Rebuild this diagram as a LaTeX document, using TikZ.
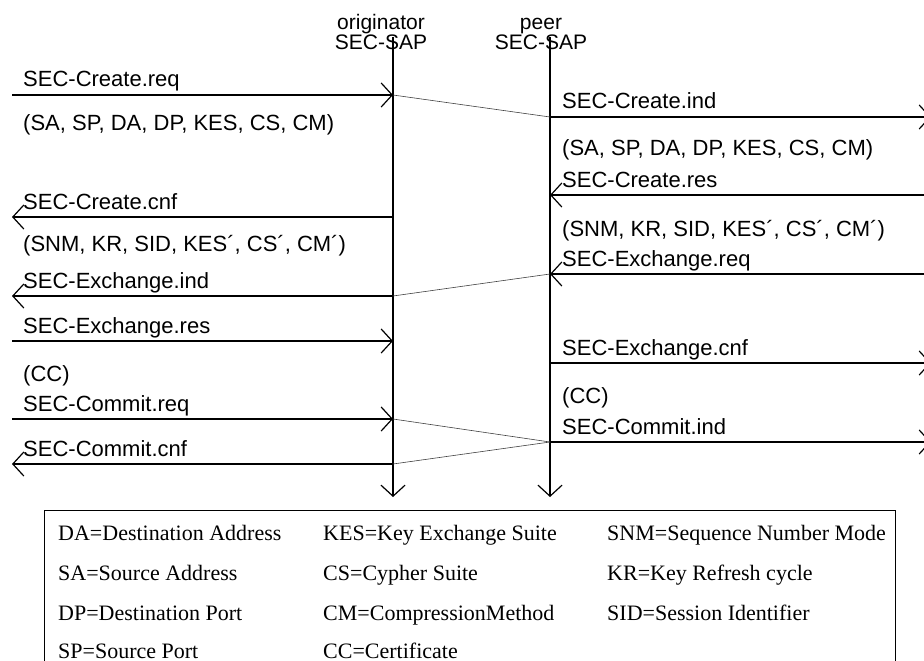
\documentclass[tikz,border=0pt]{standalone}
\usepackage{fontspec}
\setmainfont{Liberation Serif}
\newfontfamily\labelfont{Liberation Sans}
\usetikzlibrary{arrows.meta}

\begin{document}
\begin{tikzpicture}[x=1pt,y=-1pt,
  barb/.tip={Straight Barb[length=11pt,width=24pt]},
  msg/.style={line width=1.2pt,-barb},
  hop/.style={line width=0.6pt,draw=black!75},
  lifeline/.style={line width=1.2pt,-barb},
  lbl/.style={font=\labelfont\fontsize{22}{24}\selectfont,anchor=base west,inner sep=0pt},
  title/.style={font=\labelfont\fontsize{21}{18}\selectfont,align=center,anchor=base,inner sep=0pt},
  legend/.style={font=\fontsize{22}{24}\selectfont,anchor=base west,inner sep=0pt}
]
\useasboundingbox (0,0) rectangle (924,661);

% service access points
\node[title] (otitle) at (381,50) {originator\\SEC-SAP};
\node[title] (ptitle) at (541,50) {peer\\SEC-SAP};
\coordinate (otop) at (393,37);
\coordinate (obot) at (393,497);
\coordinate (ptop) at (550,37);
\coordinate (pbot) at (550,497);
\draw[lifeline] (otop) -- (obot);
\draw[lifeline] (ptop) -- (pbot);

% points on the originator lifeline
\coordinate (o1) at (393,95);
\coordinate (o2) at (393,217);
\coordinate (o3) at (393,296);
\coordinate (o4) at (393,341);
\coordinate (o5) at (393,419);
\coordinate (o6) at (393,464);
% points on the peer lifeline
\coordinate (p1) at (550,117);
\coordinate (p2) at (550,195);
\coordinate (p3) at (550,274);
\coordinate (p4) at (550,363);
\coordinate (p5) at (550,442);
% user side, left
\coordinate (l1) at (12,95);
\coordinate (l2) at (12,217);
\coordinate (l3) at (12,296);
\coordinate (l4) at (12,341);
\coordinate (l5) at (12,419);
\coordinate (l6) at (12,464);
% user side, right
\coordinate (r1) at (931,117);
\coordinate (r2) at (931,195);
\coordinate (r3) at (931,274);
\coordinate (r4) at (931,363);
\coordinate (r5) at (931,442);

% primitives on the originator side
\draw[msg] (l1) -- (o1);
\draw[msg] (o2) -- (l2);
\draw[msg] (o3) -- (l3);
\draw[msg] (l4) -- (o4);
\draw[msg] (l5) -- (o5);
\draw[msg] (o6) -- (l6);
% primitives on the peer side
\draw[msg] (p1) -- (r1);
\draw[msg] (r2) -- (p2);
\draw[msg] (r3) -- (p3);
\draw[msg] (p4) -- (r4);
\draw[msg] (p5) -- (r5);
% transfer between the two SAPs
\draw[hop] (o1) -- (p1);
\draw[hop] (p3) -- (o3);
\draw[hop] (o5) -- (p5);
\draw[hop] (p5) -- (o6);

% labels, left
\node[lbl] (t1) at (23,87) {SEC-Create.req};
\node[lbl] (a1) at (23,130) {(SA, SP, DA, DP, KES, CS, CM)};
\node[lbl] (t2) at (23,209) {SEC-Create.cnf};
\node[lbl] (a2) at (23,251) {(SNM, KR, SID, KES´, CS´, CM´)};
\node[lbl] (t3) at (23,288) {SEC-Exchange.ind};
\node[lbl] (t4) at (23,333) {SEC-Exchange.res};
\node[lbl] (a4) at (23,381) {(CC)};
\node[lbl] (t5) at (23,411) {SEC-Commit.req};
\node[lbl] (t6) at (23,456) {SEC-Commit.cnf};
% labels, right
\node[lbl] (u1) at (562,109) {SEC-Create.ind};
\node[lbl] (b1) at (562,155) {(SA, SP, DA, DP, KES, CS, CM)};
\node[lbl] (u2) at (562,187) {SEC-Create.res};
\node[lbl] (b2) at (562,236) {(SNM, KR, SID, KES´, CS´, CM´)};
\node[lbl] (u3) at (562,266) {SEC-Exchange.req};
\node[lbl] (u4) at (562,355) {SEC-Exchange.cnf};
\node[lbl] (b4) at (562,403) {(CC)};
\node[lbl] (u5) at (562,434) {SEC-Commit.ind};

% abbreviations
\draw[line width=0.8pt] (44,700) -- (44,510) -- (895,510) -- (895,700);
\node[legend] (k11) at (58,540) {DA=Destination Address};
\node[legend] (k12) at (58,580) {SA=Source Address};
\node[legend] (k13) at (58,620) {DP=Destination Port};
\node[legend] (k14) at (58,658) {SP=Source Port};
\node[legend] (k21) at (323,540) {KES=Key Exchange Suite};
\node[legend] (k22) at (323,580) {CS=Cypher Suite};
\node[legend] (k23) at (323,620) {CM=CompressionMethod};
\node[legend] (k24) at (323,658) {CC=Certificate};
\node[legend] (k31) at (607,540) {SNM=Sequence Number Mode};
\node[legend] (k32) at (607,580) {KR=Key Refresh cycle};
\node[legend] (k33) at (607,620) {SID=Session Identifier};
\end{tikzpicture}
\end{document}
